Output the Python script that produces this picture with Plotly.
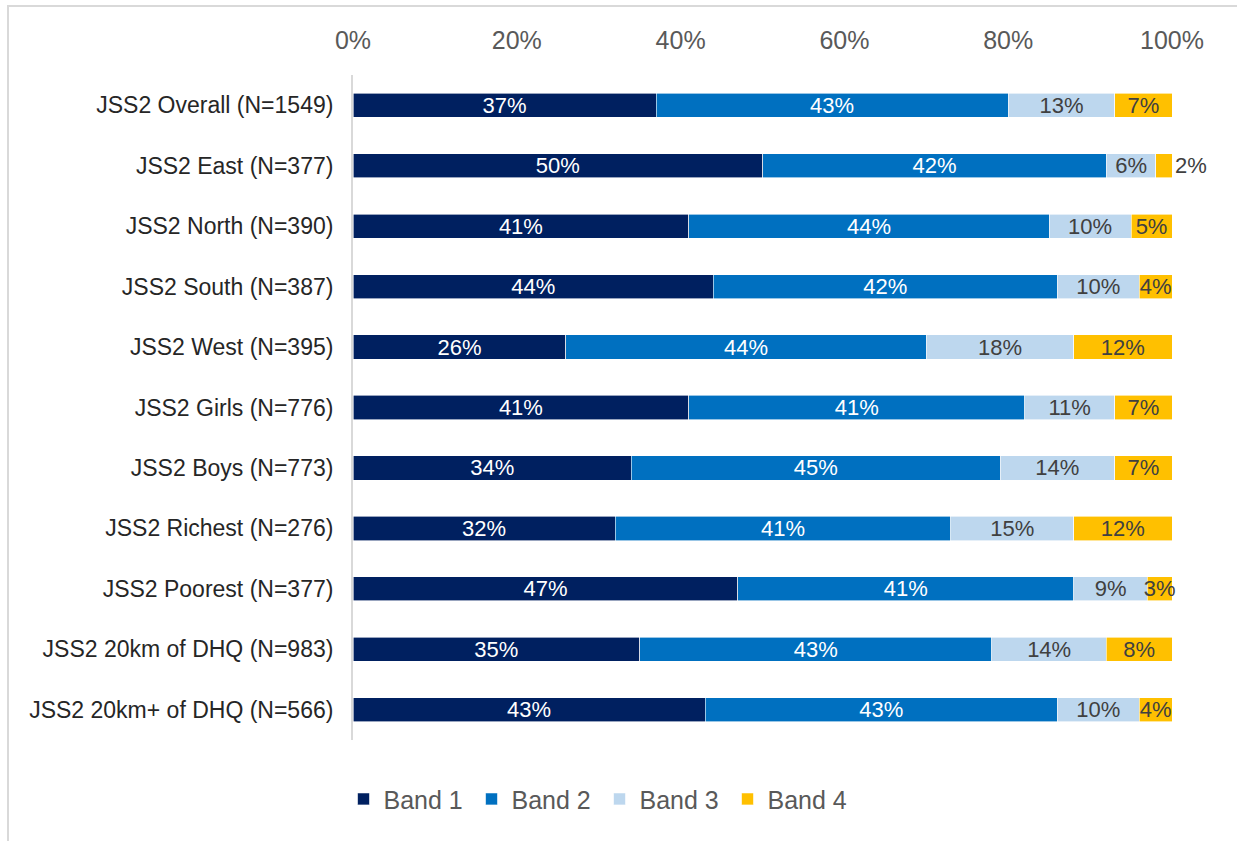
import plotly.graph_objects as go

categories = [
    "JSS2 Overall (N=1549)",
    "JSS2 East (N=377)",
    "JSS2 North (N=390)",
    "JSS2 South (N=387)",
    "JSS2 West (N=395)",
    "JSS2 Girls (N=776)",
    "JSS2 Boys (N=773)",
    "JSS2 Richest (N=276)",
    "JSS2 Poorest (N=377)",
    "JSS2 20km of DHQ (N=983)",
    "JSS2 20km+ of DHQ (N=566)",
]

band1 = [37, 50, 41, 44, 26, 41, 34, 32, 47, 35, 43]
band2 = [43, 42, 44, 42, 44, 41, 45, 41, 41, 43, 43]
band3 = [13, 6, 10, 10, 18, 11, 14, 15, 9, 14, 10]
band4 = [7, 2, 5, 4, 12, 7, 7, 12, 3, 8, 4]

band_names = ["Band 1", "Band 2", "Band 3", "Band 4"]
band_values = [band1, band2, band3, band4]
band_colors = ["#002060", "#0070C0", "#BDD7EE", "#FFC000"]
label_colors = ["#FFFFFF", "#FFFFFF", "#404040", "#404040"]

FONT = "Liberation Sans, Arial, sans-serif"

fig = go.Figure()
for name, vals, color, tcolor in zip(band_names, band_values, band_colors, label_colors):
    # the tiny East Band 4 segment carries its label outside the bar
    positions = ["inside"] * len(vals)
    if name == "Band 4":
        positions[categories.index("JSS2 East (N=377)")] = "outside"
    fig.add_trace(go.Bar(
        name=name,
        y=categories,
        x=[v / 100 for v in vals],
        orientation="h",
        marker=dict(color=color, line=dict(color="#FFFFFF", width=0.6)),
        text=[f"{v}%" for v in vals],
        textposition=positions,
        insidetextanchor="middle",
        textangle=0,
        constraintext="none",
        cliponaxis=False,
        insidetextfont=dict(family=FONT, size=22, color=tcolor),
        outsidetextfont=dict(family=FONT, size=22, color="#404040"),
        hoverinfo="skip",
    ))

fig.update_layout(
    barmode="stack",
    bargap=0.6,
    width=1237,
    height=841,
    margin=dict(l=353, r=65, t=75, b=101),
    paper_bgcolor="#FFFFFF",
    plot_bgcolor="#FFFFFF",
    font=dict(family=FONT, color="#404040"),
    showlegend=True,
    legend=dict(
        orientation="h",
        x=0.301,
        xanchor="center",
        y=-0.089,
        yanchor="middle",
        traceorder="normal",
        font=dict(family=FONT, size=25, color="#595959"),
        entrywidth=83,
        entrywidthmode="pixels",
        itemclick=False,
    ),
    xaxis=dict(
        side="top",
        range=[0, 1],
        tickvals=[0, 0.2, 0.4, 0.6, 0.8, 1.0],
        tickformat=".0%",
        showgrid=False,
        zeroline=False,
        showline=False,
        ticks="outside",
        ticklen=15,
        tickcolor="rgba(0,0,0,0)",
        tickfont=dict(family=FONT, size=25, color="#595959"),
    ),
    yaxis=dict(
        autorange="reversed",
        showgrid=False,
        zeroline=False,
        showline=True,
        linecolor="#D9D9D9",
        linewidth=2,
        ticks="outside",
        ticklen=13,
        tickcolor="rgba(0,0,0,0)",
        tickfont=dict(family=FONT, size=23, color="#262626"),
    ),
    shapes=[
        # light frame around the chart area
        dict(
            type="rect",
            xref="paper",
            yref="paper",
            x0=(8 - 353) / 819,
            x1=1.2,
            y0=-0.25,
            y1=(740 - 6) / 665,
            line=dict(color="#D9D9D9", width=2),
            fillcolor="rgba(0,0,0,0)",
            layer="below",
        )
    ],
)

fig.write_html("out.html")
